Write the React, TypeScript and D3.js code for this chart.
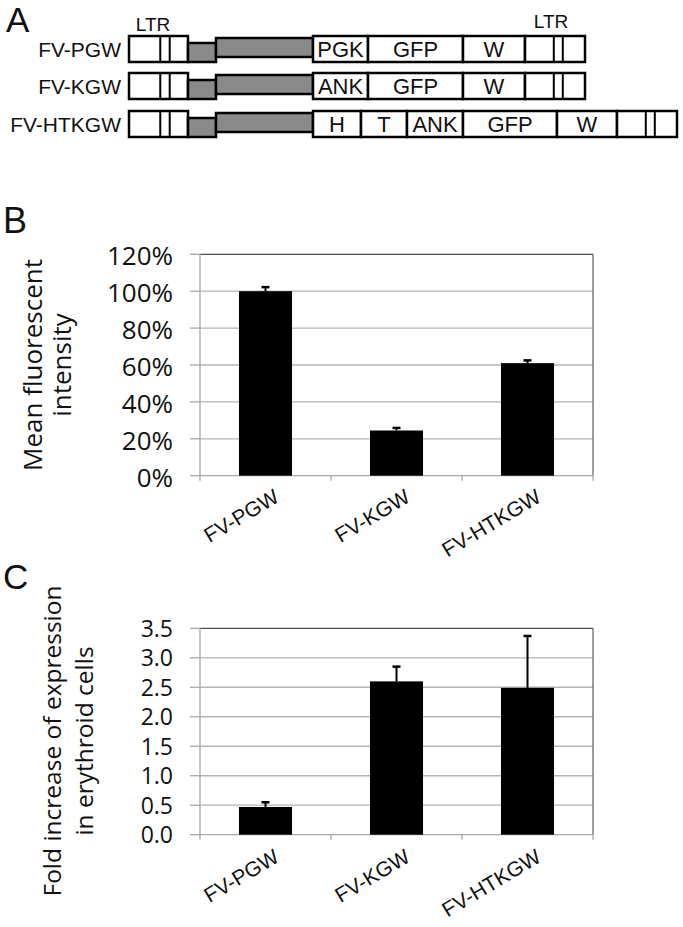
import React from "react";
import * as d3 from "d3";

// ---------- Panel A: vector constructs ----------
const constructNames = ["FV-PGW", "FV-KGW", "FV-HTKGW"];
const constructSegments = [
  ["LTR5", "psi", "gag", "PGK", "GFP", "W", "LTR3"],
  ["LTR5", "psi", "gag", "ANK", "GFP", "W", "LTR3"],
  ["LTR5", "psi", "gag", "H", "T", "ANK", "GFP", "W", "LTR3"],
];
// relative segment lengths (arbitrary units)
const constructLengths = [
  [59, 28, 97, 55, 95, 62, 60],
  [59, 28, 97, 55, 95, 62, 60],
  [59, 28, 97, 48, 46, 56, 94, 60, 60],
];

// ---------- Panel B ----------
const categories = ["FV-PGW", "FV-KGW", "FV-HTKGW"];
const mfiValues = [1.0, 0.245, 0.61];
const mfiErrors = [0.022, 0.014, 0.015];
const mfiTicks = [0, 0.2, 0.4, 0.6, 0.8, 1.0, 1.2];

// ---------- Panel C ----------
const foldValues = [0.47, 2.6, 2.49];
const foldErrors = [0.08, 0.25, 0.88];
const foldTicks = [0, 0.5, 1.0, 1.5, 2.0, 2.5, 3.0, 3.5];

const W = 683;
const H = 927;
const SANS = "'Liberation Sans', Arial, sans-serif";
const CAL = "'Open Sans', 'Noto Sans', sans-serif";

function Construct({ idx, top }: { idx: number; top: number }) {
  const lens = constructLengths[idx];
  const segs = constructSegments[idx];
  const total = d3.sum(lens);
  const x = d3.scaleLinear().domain([0, total]).range([129, 129 + total]);
  const cum = [0, ...d3.cumsum(lens)];
  const h = 26;
  return (
    <g>
      <text x={121} y={top + 21} textAnchor="end" fontFamily={SANS} fontSize={21} fill="#111">
        {constructNames[idx]}
      </text>
      {segs.map((s, i) => {
        const x0 = x(cum[i]);
        const x1 = x(cum[i + 1]);
        if (s === "psi") {
          return (
            <rect key={i} x={x0} y={top + 7} width={x1 - x0} height={h - 7}
              fill="#8a8a8a" stroke="#000" strokeWidth={2.5} />
          );
        }
        if (s === "gag") {
          return (
            <rect key={i} x={x0} y={top + 2} width={x1 - x0} height={h - 7}
              fill="#8a8a8a" stroke="#000" strokeWidth={2.5} />
          );
        }
        if (s === "LTR5" || s === "LTR3") {
          const fr = s === "LTR5" ? [0.53, 0.69] : [0.48, 0.63];
          return (
            <g key={i}>
              <rect x={x0} y={top} width={x1 - x0} height={h} fill="#fff" stroke="#000" strokeWidth={2.5} />
              {fr.map((f, j) => (
                <line key={j} x1={x0 + f * (x1 - x0)} x2={x0 + f * (x1 - x0)} y1={top} y2={top + h}
                  stroke="#000" strokeWidth={2} />
              ))}
            </g>
          );
        }
        return (
          <g key={i}>
            <rect x={x0} y={top} width={x1 - x0} height={h} fill="#fff" stroke="#000" strokeWidth={2.5} />
            <text x={(x0 + x1) / 2} y={top + 21} textAnchor="middle" fontFamily={SANS} fontSize={22} fill="#111">
              {s}
            </text>
          </g>
        );
      })}
    </g>
  );
}

function BarPanel({
  values, errors, ticks, yMax, top, bottom, fmt, tickFont, tickDy, titleLines, titleX, titleFont, titleCy, labelDy,
}: {
  values: number[]; errors: number[]; ticks: number[]; yMax: number; top: number; bottom: number;
  fmt: (v: number) => string; tickFont: number; tickDy: number; titleLines: string[]; titleX: number[];
  titleFont: number; titleCy: number; labelDy: number;
}) {
  const left = 200;
  const right = 593;
  const x = d3.scaleBand<string>().domain(categories).range([left, right]).paddingInner(0.595).paddingOuter(0.2975);
  const y = d3.scaleLinear().domain([0, yMax]).range([bottom, top]);
  const step = x.step();
  return (
    <g>
      {ticks.filter((t) => t > 0 && t < yMax).map((t) => (
        <line key={t} x1={left} x2={right} y1={y(t)} y2={y(t)} stroke="#b4b4b4" strokeWidth={1.3} />
      ))}
      {/* plot border top & right */}
      <line x1={left} x2={right} y1={y(yMax)} y2={y(yMax)} stroke="#505050" strokeWidth={1.3} />
      <line x1={right} x2={right} y1={y(yMax)} y2={bottom} stroke="#6a6a6a" strokeWidth={1.3} />
      {/* axes */}
      <line x1={left} x2={left} y1={top} y2={bottom} stroke="#a8a8a8" strokeWidth={1.3} />
      <line x1={left} x2={right} y1={bottom} y2={bottom} stroke="#a8a8a8" strokeWidth={1.3} />
      {ticks.map((t) => (
        <g key={"t" + t}>
          <line x1={left - 10} x2={left} y1={y(t)} y2={y(t)} stroke="#a8a8a8" strokeWidth={1.3} />
          <text x={173} y={y(t) + tickDy} textAnchor="end" fontFamily={CAL} fontSize={tickFont} fill="#111">
            {fmt(t)}
          </text>
        </g>
      ))}
      {d3.range(categories.length + 1).map((i) => (
        <line key={"x" + i} x1={left + i * step} x2={left + i * step} y1={bottom} y2={bottom + 5}
          stroke="#a8a8a8" strokeWidth={1.3} />
      ))}
      {categories.map((c, i) => {
        const bx = x(c)!;
        const bw = x.bandwidth();
        const cx = bx + bw / 2;
        const yTop = y(values[i]);
        const yErr = y(values[i] + errors[i]);
        return (
          <g key={c}>
            <rect x={bx} y={yTop} width={bw} height={bottom - yTop} fill="#000" />
            <line x1={cx} x2={cx} y1={yTop} y2={yErr} stroke="#000" strokeWidth={2} />
            <line x1={cx - 4} x2={cx + 4} y1={yErr} y2={yErr} stroke="#000" strokeWidth={2.5} />
            <text transform={`translate(${cx + 15},${bottom + labelDy}) rotate(-31)`} textAnchor="end"
              fontFamily={SANS} fontSize={21} fill="#111">
              {c}
            </text>
          </g>
        );
      })}
      {titleLines.map((l, i) => (
        <text key={l} transform={`translate(${titleX[i]},${titleCy}) rotate(-90)`} textAnchor="middle"
          fontFamily={CAL} fontSize={titleFont} fill="#111">
          {l}
        </text>
      ))}
    </g>
  );
}

export default function App() {
  const pct = d3.format(".0%");
  const one = d3.format(".1f");
  return (
    <svg width={W} height={H} style={{ position: "absolute", left: 0, top: 0, background: "#fff" }}>
      <rect width={W} height={H} fill="#fff" />
      {/* Panel A */}
      <text x={6} y={32} fontFamily={SANS} fontSize={35} fill="#111">A</text>
      <text x={153} y={31} textAnchor="middle" fontFamily={SANS} fontSize={19} fill="#111">LTR</text>
      <text x={551} y={28} textAnchor="middle" fontFamily={SANS} fontSize={19} fill="#111">LTR</text>
      {[36, 73, 111].map((t, i) => (
        <Construct key={i} idx={i} top={t} />
      ))}

      {/* Panel B */}
      <text x={3} y={233} fontFamily={SANS} fontSize={36} fill="#111">B</text>
      <BarPanel values={mfiValues} errors={mfiErrors} ticks={mfiTicks} yMax={1.2} top={254.3} bottom={475.7}
        fmt={pct} tickFont={26} tickDy={11} titleLines={["Mean fluorescent", "intensity"]} titleX={[42, 71]}
        titleFont={26} titleCy={365} labelDy={25} />

      {/* Panel C */}
      <text x={3} y={589} fontFamily={SANS} fontSize={35} fill="#111">C</text>
      <BarPanel values={foldValues} errors={foldErrors} ticks={foldTicks} yMax={3.5} top={628.3} bottom={834.7}
        fmt={one} tickFont={23} tickDy={8.5} titleLines={["Fold increase of expression", "in erythroid cells"]}
        titleX={[61, 93]} titleFont={24.5} titleCy={741} labelDy={26} />
    </svg>
  );
}
